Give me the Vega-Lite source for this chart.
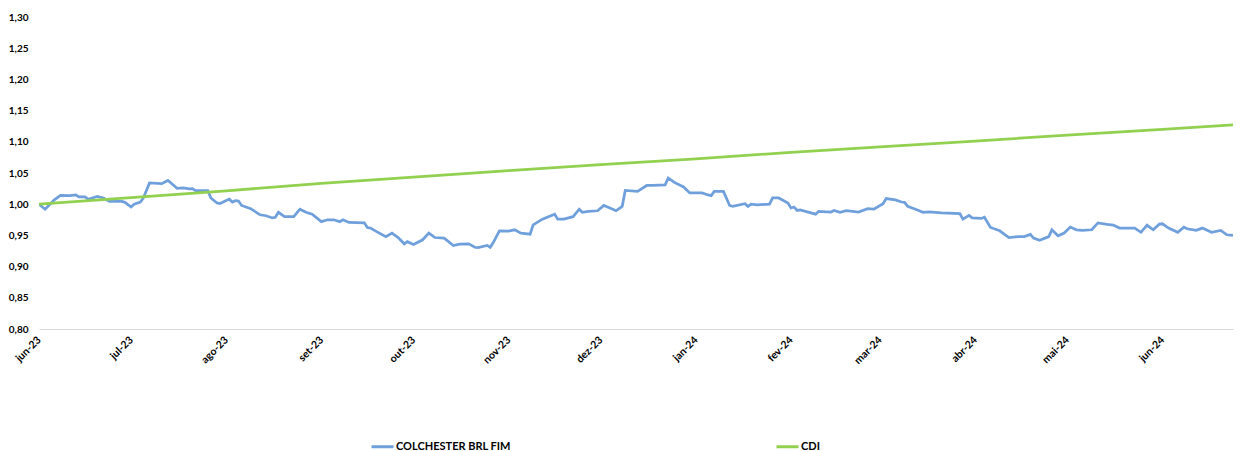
{
  "$schema": "https://vega.github.io/schema/vega-lite/v6.json",
  "width": 1194,
  "height": 312,
  "autosize": {"type": "none"},
  "padding": {"left": 39, "top": 17, "right": 15, "bottom": 122},
  "background": "white",
  "config": {
    "view": {"stroke": null},
    "font": "Lato",
    "axis": {"labelFont": "Lato", "labelFontWeight": "bold", "labelFontSize": 10, "labelColor": "#000000", "grid": false, "ticks": false, "title": null}
  },
  "data": {
    "values": [
      {"d":"2023-06-01","s":"COLCHESTER BRL FIM","v":1.000},
      {"d":"2023-06-03","s":"COLCHESTER BRL FIM","v":0.992},
      {"d":"2023-06-06","s":"COLCHESTER BRL FIM","v":1.007},
      {"d":"2023-06-08","s":"COLCHESTER BRL FIM","v":1.014},
      {"d":"2023-06-11","s":"COLCHESTER BRL FIM","v":1.0137},
      {"d":"2023-06-13","s":"COLCHESTER BRL FIM","v":1.015},
      {"d":"2023-06-14","s":"COLCHESTER BRL FIM","v":1.0116},
      {"d":"2023-06-16","s":"COLCHESTER BRL FIM","v":1.0116},
      {"d":"2023-06-17","s":"COLCHESTER BRL FIM","v":1.008},
      {"d":"2023-06-20","s":"COLCHESTER BRL FIM","v":1.0126},
      {"d":"2023-06-22","s":"COLCHESTER BRL FIM","v":1.010},
      {"d":"2023-06-24","s":"COLCHESTER BRL FIM","v":1.0045},
      {"d":"2023-06-28","s":"COLCHESTER BRL FIM","v":1.0045},
      {"d":"2023-06-29","s":"COLCHESTER BRL FIM","v":1.003},
      {"d":"2023-07-01","s":"COLCHESTER BRL FIM","v":0.9955},
      {"d":"2023-07-02","s":"COLCHESTER BRL FIM","v":1.000},
      {"d":"2023-07-04","s":"COLCHESTER BRL FIM","v":1.0035},
      {"d":"2023-07-05","s":"COLCHESTER BRL FIM","v":1.010},
      {"d":"2023-07-07","s":"COLCHESTER BRL FIM","v":1.034},
      {"d":"2023-07-11","s":"COLCHESTER BRL FIM","v":1.033},
      {"d":"2023-07-13","s":"COLCHESTER BRL FIM","v":1.038},
      {"d":"2023-07-14","s":"COLCHESTER BRL FIM","v":1.034},
      {"d":"2023-07-16","s":"COLCHESTER BRL FIM","v":1.0255},
      {"d":"2023-07-18","s":"COLCHESTER BRL FIM","v":1.026},
      {"d":"2023-07-20","s":"COLCHESTER BRL FIM","v":1.0245},
      {"d":"2023-07-21","s":"COLCHESTER BRL FIM","v":1.025},
      {"d":"2023-07-22","s":"COLCHESTER BRL FIM","v":1.0217},
      {"d":"2023-07-26","s":"COLCHESTER BRL FIM","v":1.0217},
      {"d":"2023-07-27","s":"COLCHESTER BRL FIM","v":1.010},
      {"d":"2023-07-29","s":"COLCHESTER BRL FIM","v":1.002},
      {"d":"2023-07-30","s":"COLCHESTER BRL FIM","v":1.001},
      {"d":"2023-08-01","s":"COLCHESTER BRL FIM","v":1.006},
      {"d":"2023-08-02","s":"COLCHESTER BRL FIM","v":1.008},
      {"d":"2023-08-03","s":"COLCHESTER BRL FIM","v":1.0035},
      {"d":"2023-08-04","s":"COLCHESTER BRL FIM","v":1.0056},
      {"d":"2023-08-05","s":"COLCHESTER BRL FIM","v":1.005},
      {"d":"2023-08-06","s":"COLCHESTER BRL FIM","v":0.998},
      {"d":"2023-08-09","s":"COLCHESTER BRL FIM","v":0.9928},
      {"d":"2023-08-12","s":"COLCHESTER BRL FIM","v":0.983},
      {"d":"2023-08-14","s":"COLCHESTER BRL FIM","v":0.9815},
      {"d":"2023-08-16","s":"COLCHESTER BRL FIM","v":0.978},
      {"d":"2023-08-17","s":"COLCHESTER BRL FIM","v":0.979},
      {"d":"2023-08-18","s":"COLCHESTER BRL FIM","v":0.987},
      {"d":"2023-08-20","s":"COLCHESTER BRL FIM","v":0.980},
      {"d":"2023-08-23","s":"COLCHESTER BRL FIM","v":0.980},
      {"d":"2023-08-25","s":"COLCHESTER BRL FIM","v":0.992},
      {"d":"2023-08-27","s":"COLCHESTER BRL FIM","v":0.987},
      {"d":"2023-08-29","s":"COLCHESTER BRL FIM","v":0.984},
      {"d":"2023-09-01","s":"COLCHESTER BRL FIM","v":0.972},
      {"d":"2023-09-03","s":"COLCHESTER BRL FIM","v":0.975},
      {"d":"2023-09-05","s":"COLCHESTER BRL FIM","v":0.975},
      {"d":"2023-09-07","s":"COLCHESTER BRL FIM","v":0.972},
      {"d":"2023-09-08","s":"COLCHESTER BRL FIM","v":0.975},
      {"d":"2023-09-10","s":"COLCHESTER BRL FIM","v":0.9707},
      {"d":"2023-09-15","s":"COLCHESTER BRL FIM","v":0.970},
      {"d":"2023-09-16","s":"COLCHESTER BRL FIM","v":0.9627},
      {"d":"2023-09-17","s":"COLCHESTER BRL FIM","v":0.9617},
      {"d":"2023-09-19","s":"COLCHESTER BRL FIM","v":0.956},
      {"d":"2023-09-22","s":"COLCHESTER BRL FIM","v":0.948},
      {"d":"2023-09-24","s":"COLCHESTER BRL FIM","v":0.9537},
      {"d":"2023-09-26","s":"COLCHESTER BRL FIM","v":0.9466},
      {"d":"2023-09-28","s":"COLCHESTER BRL FIM","v":0.9365},
      {"d":"2023-09-29","s":"COLCHESTER BRL FIM","v":0.940},
      {"d":"2023-10-01","s":"COLCHESTER BRL FIM","v":0.9354},
      {"d":"2023-10-04","s":"COLCHESTER BRL FIM","v":0.943},
      {"d":"2023-10-06","s":"COLCHESTER BRL FIM","v":0.9537},
      {"d":"2023-10-08","s":"COLCHESTER BRL FIM","v":0.9466},
      {"d":"2023-10-11","s":"COLCHESTER BRL FIM","v":0.9456},
      {"d":"2023-10-14","s":"COLCHESTER BRL FIM","v":0.9338},
      {"d":"2023-10-16","s":"COLCHESTER BRL FIM","v":0.936},
      {"d":"2023-10-19","s":"COLCHESTER BRL FIM","v":0.9365},
      {"d":"2023-10-21","s":"COLCHESTER BRL FIM","v":0.931},
      {"d":"2023-10-22","s":"COLCHESTER BRL FIM","v":0.9305},
      {"d":"2023-10-25","s":"COLCHESTER BRL FIM","v":0.934},
      {"d":"2023-10-26","s":"COLCHESTER BRL FIM","v":0.931},
      {"d":"2023-10-27","s":"COLCHESTER BRL FIM","v":0.9386},
      {"d":"2023-10-29","s":"COLCHESTER BRL FIM","v":0.9574},
      {"d":"2023-11-01","s":"COLCHESTER BRL FIM","v":0.957},
      {"d":"2023-11-03","s":"COLCHESTER BRL FIM","v":0.959},
      {"d":"2023-11-05","s":"COLCHESTER BRL FIM","v":0.9537},
      {"d":"2023-11-08","s":"COLCHESTER BRL FIM","v":0.952},
      {"d":"2023-11-09","s":"COLCHESTER BRL FIM","v":0.967},
      {"d":"2023-11-12","s":"COLCHESTER BRL FIM","v":0.976},
      {"d":"2023-11-16","s":"COLCHESTER BRL FIM","v":0.984},
      {"d":"2023-11-17","s":"COLCHESTER BRL FIM","v":0.976},
      {"d":"2023-11-19","s":"COLCHESTER BRL FIM","v":0.976},
      {"d":"2023-11-22","s":"COLCHESTER BRL FIM","v":0.980},
      {"d":"2023-11-24","s":"COLCHESTER BRL FIM","v":0.992},
      {"d":"2023-11-25","s":"COLCHESTER BRL FIM","v":0.987},
      {"d":"2023-11-27","s":"COLCHESTER BRL FIM","v":0.9884},
      {"d":"2023-11-30","s":"COLCHESTER BRL FIM","v":0.9895},
      {"d":"2023-12-02","s":"COLCHESTER BRL FIM","v":0.998},
      {"d":"2023-12-04","s":"COLCHESTER BRL FIM","v":0.994},
      {"d":"2023-12-06","s":"COLCHESTER BRL FIM","v":0.9895},
      {"d":"2023-12-08","s":"COLCHESTER BRL FIM","v":0.9965},
      {"d":"2023-12-09","s":"COLCHESTER BRL FIM","v":1.022},
      {"d":"2023-12-13","s":"COLCHESTER BRL FIM","v":1.0206},
      {"d":"2023-12-16","s":"COLCHESTER BRL FIM","v":1.030},
      {"d":"2023-12-18","s":"COLCHESTER BRL FIM","v":1.030},
      {"d":"2023-12-22","s":"COLCHESTER BRL FIM","v":1.031},
      {"d":"2023-12-23","s":"COLCHESTER BRL FIM","v":1.042},
      {"d":"2023-12-25","s":"COLCHESTER BRL FIM","v":1.035},
      {"d":"2023-12-28","s":"COLCHESTER BRL FIM","v":1.0277},
      {"d":"2023-12-30","s":"COLCHESTER BRL FIM","v":1.018},
      {"d":"2024-01-03","s":"COLCHESTER BRL FIM","v":1.018},
      {"d":"2024-01-05","s":"COLCHESTER BRL FIM","v":1.0148},
      {"d":"2024-01-06","s":"COLCHESTER BRL FIM","v":1.0137},
      {"d":"2024-01-07","s":"COLCHESTER BRL FIM","v":1.0206},
      {"d":"2024-01-10","s":"COLCHESTER BRL FIM","v":1.0206},
      {"d":"2024-01-12","s":"COLCHESTER BRL FIM","v":0.998},
      {"d":"2024-01-13","s":"COLCHESTER BRL FIM","v":0.9965},
      {"d":"2024-01-17","s":"COLCHESTER BRL FIM","v":1.0008},
      {"d":"2024-01-18","s":"COLCHESTER BRL FIM","v":0.9965},
      {"d":"2024-01-19","s":"COLCHESTER BRL FIM","v":1.000},
      {"d":"2024-01-21","s":"COLCHESTER BRL FIM","v":0.999},
      {"d":"2024-01-25","s":"COLCHESTER BRL FIM","v":1.000},
      {"d":"2024-01-26","s":"COLCHESTER BRL FIM","v":1.010},
      {"d":"2024-01-28","s":"COLCHESTER BRL FIM","v":1.010},
      {"d":"2024-01-31","s":"COLCHESTER BRL FIM","v":1.002},
      {"d":"2024-02-01","s":"COLCHESTER BRL FIM","v":0.994},
      {"d":"2024-02-02","s":"COLCHESTER BRL FIM","v":0.9955},
      {"d":"2024-02-03","s":"COLCHESTER BRL FIM","v":0.990},
      {"d":"2024-02-04","s":"COLCHESTER BRL FIM","v":0.991},
      {"d":"2024-02-09","s":"COLCHESTER BRL FIM","v":0.984},
      {"d":"2024-02-10","s":"COLCHESTER BRL FIM","v":0.9884},
      {"d":"2024-02-14","s":"COLCHESTER BRL FIM","v":0.9875},
      {"d":"2024-02-15","s":"COLCHESTER BRL FIM","v":0.990},
      {"d":"2024-02-17","s":"COLCHESTER BRL FIM","v":0.987},
      {"d":"2024-02-19","s":"COLCHESTER BRL FIM","v":0.9895},
      {"d":"2024-02-23","s":"COLCHESTER BRL FIM","v":0.9875},
      {"d":"2024-02-26","s":"COLCHESTER BRL FIM","v":0.9928},
      {"d":"2024-02-28","s":"COLCHESTER BRL FIM","v":0.992},
      {"d":"2024-03-02","s":"COLCHESTER BRL FIM","v":1.0008},
      {"d":"2024-03-03","s":"COLCHESTER BRL FIM","v":1.009},
      {"d":"2024-03-06","s":"COLCHESTER BRL FIM","v":1.007},
      {"d":"2024-03-08","s":"COLCHESTER BRL FIM","v":1.0035},
      {"d":"2024-03-09","s":"COLCHESTER BRL FIM","v":1.003},
      {"d":"2024-03-10","s":"COLCHESTER BRL FIM","v":0.9965},
      {"d":"2024-03-13","s":"COLCHESTER BRL FIM","v":0.991},
      {"d":"2024-03-15","s":"COLCHESTER BRL FIM","v":0.987},
      {"d":"2024-03-17","s":"COLCHESTER BRL FIM","v":0.9875},
      {"d":"2024-03-21","s":"COLCHESTER BRL FIM","v":0.986},
      {"d":"2024-03-27","s":"COLCHESTER BRL FIM","v":0.985},
      {"d":"2024-03-28","s":"COLCHESTER BRL FIM","v":0.976},
      {"d":"2024-03-30","s":"COLCHESTER BRL FIM","v":0.982},
      {"d":"2024-03-31","s":"COLCHESTER BRL FIM","v":0.978},
      {"d":"2024-04-03","s":"COLCHESTER BRL FIM","v":0.9772},
      {"d":"2024-04-04","s":"COLCHESTER BRL FIM","v":0.979},
      {"d":"2024-04-06","s":"COLCHESTER BRL FIM","v":0.9627},
      {"d":"2024-04-09","s":"COLCHESTER BRL FIM","v":0.9574},
      {"d":"2024-04-10","s":"COLCHESTER BRL FIM","v":0.9537},
      {"d":"2024-04-12","s":"COLCHESTER BRL FIM","v":0.9466},
      {"d":"2024-04-15","s":"COLCHESTER BRL FIM","v":0.948},
      {"d":"2024-04-17","s":"COLCHESTER BRL FIM","v":0.948},
      {"d":"2024-04-19","s":"COLCHESTER BRL FIM","v":0.9515},
      {"d":"2024-04-20","s":"COLCHESTER BRL FIM","v":0.9456},
      {"d":"2024-04-22","s":"COLCHESTER BRL FIM","v":0.942},
      {"d":"2024-04-25","s":"COLCHESTER BRL FIM","v":0.948},
      {"d":"2024-04-26","s":"COLCHESTER BRL FIM","v":0.959},
      {"d":"2024-04-28","s":"COLCHESTER BRL FIM","v":0.9494},
      {"d":"2024-04-30","s":"COLCHESTER BRL FIM","v":0.9537},
      {"d":"2024-05-02","s":"COLCHESTER BRL FIM","v":0.9633},
      {"d":"2024-05-04","s":"COLCHESTER BRL FIM","v":0.959},
      {"d":"2024-05-06","s":"COLCHESTER BRL FIM","v":0.958},
      {"d":"2024-05-09","s":"COLCHESTER BRL FIM","v":0.959},
      {"d":"2024-05-11","s":"COLCHESTER BRL FIM","v":0.970},
      {"d":"2024-05-14","s":"COLCHESTER BRL FIM","v":0.9675},
      {"d":"2024-05-16","s":"COLCHESTER BRL FIM","v":0.9666},
      {"d":"2024-05-18","s":"COLCHESTER BRL FIM","v":0.9617},
      {"d":"2024-05-23","s":"COLCHESTER BRL FIM","v":0.9617},
      {"d":"2024-05-25","s":"COLCHESTER BRL FIM","v":0.955},
      {"d":"2024-05-27","s":"COLCHESTER BRL FIM","v":0.9666},
      {"d":"2024-05-29","s":"COLCHESTER BRL FIM","v":0.959},
      {"d":"2024-05-31","s":"COLCHESTER BRL FIM","v":0.968},
      {"d":"2024-06-01","s":"COLCHESTER BRL FIM","v":0.9686},
      {"d":"2024-06-03","s":"COLCHESTER BRL FIM","v":0.9617},
      {"d":"2024-06-06","s":"COLCHESTER BRL FIM","v":0.955},
      {"d":"2024-06-08","s":"COLCHESTER BRL FIM","v":0.9633},
      {"d":"2024-06-09","s":"COLCHESTER BRL FIM","v":0.9606},
      {"d":"2024-06-12","s":"COLCHESTER BRL FIM","v":0.958},
      {"d":"2024-06-14","s":"COLCHESTER BRL FIM","v":0.9617},
      {"d":"2024-06-17","s":"COLCHESTER BRL FIM","v":0.955},
      {"d":"2024-06-20","s":"COLCHESTER BRL FIM","v":0.958},
      {"d":"2024-06-22","s":"COLCHESTER BRL FIM","v":0.951},
      {"d":"2024-06-24","s":"COLCHESTER BRL FIM","v":0.950},
      {"d":"2023-06-01","s":"CDI","v":1.0000},
      {"d":"2023-07-01","s":"CDI","v":1.0107},
      {"d":"2023-08-01","s":"CDI","v":1.0215},
      {"d":"2023-09-01","s":"CDI","v":1.0332},
      {"d":"2023-10-01","s":"CDI","v":1.0432},
      {"d":"2023-11-01","s":"CDI","v":1.0537},
      {"d":"2023-12-01","s":"CDI","v":1.0634},
      {"d":"2024-01-01","s":"CDI","v":1.0728},
      {"d":"2024-02-01","s":"CDI","v":1.0832},
      {"d":"2024-03-01","s":"CDI","v":1.0919},
      {"d":"2024-04-01","s":"CDI","v":1.1010},
      {"d":"2024-05-01","s":"CDI","v":1.1108},
      {"d":"2024-06-01","s":"CDI","v":1.1200},
      {"d":"2024-06-24","s":"CDI","v":1.1273}
    ]
  },
  "mark": {"type": "line", "strokeWidth": 2.75, "clip": true},
  "encoding": {
    "x": {
      "field": "d",
      "type": "temporal",
      "scale": {"type": "utc", "domain": ["2023-06-01", "2024-06-24"], "nice": false},
      "axis": {
        "tickCount": {"interval": "month", "step": 1},
        "labelAngle": -45,
        "labelAlign": "right",
        "labelBaseline": "middle",
        "labelPadding": 9,
        "labelFontSize": 10.5,
        "labelExpr": "['jan','fev','mar','abr','mai','jun','jul','ago','set','out','nov','dez'][utcmonth(datum.value)] + '-' + utcFormat(datum.value, '%y')",
        "domainColor": "#d9d9d9",
        "domainWidth": 1,
        "labelOverlap": false,
        "labelFlush": false
      }
    },
    "y": {
      "field": "v",
      "type": "quantitative",
      "scale": {"domain": [0.8, 1.3], "nice": false, "zero": false},
      "axis": {
        "values": [0.8, 0.85, 0.9, 0.95, 1.0, 1.05, 1.1, 1.15, 1.2, 1.25, 1.3],
        "labelExpr": "replace(format(datum.value, '.2f'), '.', ',')",
        "domain": false,
        "labelPadding": 11
      }
    },
    "color": {
      "field": "s",
      "type": "nominal",
      "scale": {"domain": ["COLCHESTER BRL FIM", "CDI"], "range": ["#6fa0dc", "#92d050"]},
      "legend": {
        "title": null,
        "orient": "none",
        "legendX": 331,
        "legendY": 417,
        "direction": "horizontal",
        "symbolType": "stroke",
        "symbolSize": 484,
        "symbolStrokeWidth": 3,
        "labelFont": "Lato",
        "labelFontWeight": "bold",
        "labelFontSize": 11,
        "labelColor": "#000000",
        "labelOffset": 1,
        "columnPadding": 259,
        "padding": 0
      }
    }
  }
}
